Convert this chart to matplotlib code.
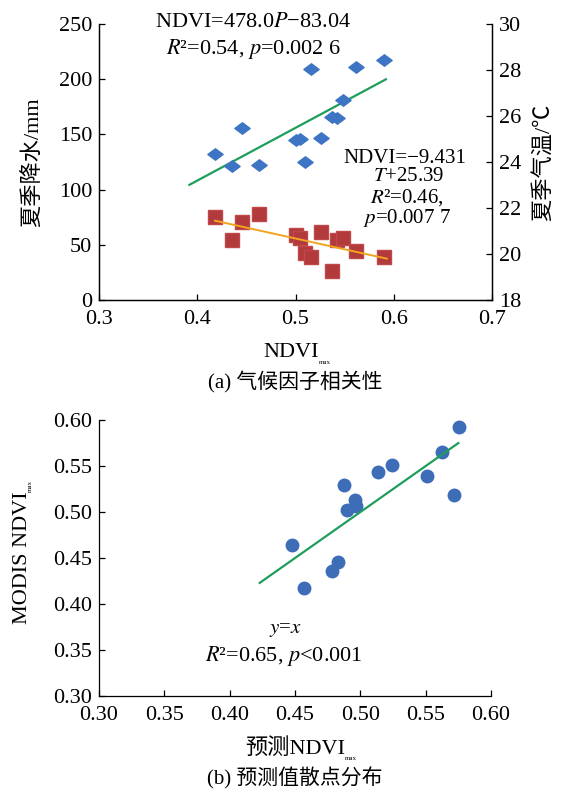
import matplotlib
matplotlib.use("Agg")
import matplotlib.pyplot as plt
import numpy as np
from matplotlib.path import Path

plt.rcParams['font.family'] = ['Liberation Serif', 'Noto Sans CJK SC']
plt.rcParams['mathtext.fontset'] = 'stix'
plt.rcParams['font.size'] = 16

# ---------------- data (a) ----------------
ndvi_max = [0.418, 0.435, 0.446, 0.463, 0.500, 0.505, 0.510,
            0.516, 0.526, 0.537, 0.542, 0.548, 0.562, 0.590]
precip = [132, 121, 155.6, 122.5, 145, 145.6, 124.6,
          209.6, 146.5, 165.5, 164.6, 181, 211, 217]
temp = [21.62, 20.61, 21.39, 21.73, 20.82, 20.71, 20.04,
        19.85, 20.96, 19.27, 20.61, 20.71, 20.14, 19.89]
# fit coefficients written on the chart
p_slope, p_icept = 478.0, -83.04
t_slope, t_icept = -9.431, 25.39
p_fit_range = [0.392, 0.592]
t_fit_range = [0.418, 0.593]

# ---------------- data (b) ----------------
pred_ndvi = [0.448, 0.457, 0.478, 0.483, 0.4876, 0.490, 0.4959,
             0.4964, 0.5137, 0.524, 0.5508, 0.5624, 0.5714, 0.5755]
modis_ndvi = [0.4645, 0.4175, 0.4356, 0.4457, 0.5292, 0.5025, 0.5133,
              0.5068, 0.544, 0.551, 0.539, 0.5657, 0.518, 0.5928]
one_to_one_range = [0.423, 0.575]

BLUE = '#3D75C4'
RED = '#B23A3C'
DOT = '#3E6DB8'
GREEN = '#1E9E5A'
ORANGE = '#F2A51E'

fig = plt.figure(figsize=(5.62, 7.93), dpi=100)

# flattened diamond
diamond = Path([(-1, 0), (0, 0.75), (1, 0), (0, -0.75), (-1, 0)],
               [Path.MOVETO, Path.LINETO, Path.LINETO, Path.LINETO, Path.CLOSEPOLY])


def style_axis(ax):
    for s in ax.spines.values():
        s.set_linewidth(0.9)
    ax.tick_params(direction='in', length=4, width=0.9, labelsize=16, pad=5)
    ax.tick_params(axis='x', pad=7)


# ---------------- (a) ----------------
ax1 = fig.add_axes([0.1762, 0.6217, 0.6993, 0.3480])
ax2 = ax1.twinx()
style_axis(ax1)
style_axis(ax2)
ax1.spines['top'].set_visible(False)
ax2.spines['top'].set_visible(False)

xf = np.array(p_fit_range)
ax1.plot(xf, p_slope * xf + p_icept, color=GREEN, lw=1.6, zorder=2)
ax1.plot(ndvi_max, precip, ls='none', marker=diamond, ms=11,
         color=BLUE, zorder=3)

xt = np.array(t_fit_range)
ax2.plot(ndvi_max, temp, ls='none', marker='s', ms=10, color=RED,
         markeredgecolor='#C04848', zorder=3)
ax2.plot(xt, t_slope * xt + t_icept, color=ORANGE, lw=1.4, zorder=4)

ax1.set_xlim(0.3, 0.7)
ax1.set_ylim(0, 250)
ax2.set_ylim(18, 30)
ax1.set_xticks([0.3, 0.4, 0.5, 0.6, 0.7])
ax1.set_xticklabels(['0.3', '0.4', '0.5', '0.6', '0.7'])
ax1.set_yticks(range(0, 251, 50))
ax2.set_yticks(range(18, 31, 2))

ax1.set_ylabel('夏季降水/mm', fontsize=16)
ax1.yaxis.set_label_coords(-0.14, 0.5)
ax2.set_ylabel('夏季气温/℃', fontsize=16)
ax2.yaxis.set_label_coords(1.105, 0.5)

ax1.text(0.457, 251, 'NDVI=478.0$P$\u221283.04', ha='center', va='center', fontsize=16)
ax1.text(0.457, 227, '$R$\u00b2=0.54, $p$=0.002 6', ha='center', va='center', fontsize=16)
ax1.text(0.611, 128, 'NDVI=\u22129.431', ha='center', va='center', fontsize=15)
ax1.text(0.615, 112, '$T$+25.39', ha='center', va='center', fontsize=15)
ax1.text(0.613, 93, '$R$\u00b2=0.46,', ha='center', va='center', fontsize=15)
ax1.text(0.613, 74.5, '$p$=0.007 7', ha='center', va='center', fontsize=15)

t1 = ax1.text(0.49, -0.19, 'NDVI', transform=ax1.transAxes,
              ha='center', va='center', fontsize=16)
ax1.annotate('max', xy=(1.0, 0.12), xycoords=t1, ha='left', va='top', fontsize=5)
ax1.text(0.5, -0.30, '(a) 气候因子相关性', transform=ax1.transAxes,
         ha='center', va='center', fontsize=15)

# ---------------- (b) ----------------
ax3 = fig.add_axes([0.1762, 0.1223, 0.6975, 0.3480])
style_axis(ax3)
ax3.spines['top'].set_visible(False)
ax3.spines['right'].set_visible(False)

ax3.plot(pred_ndvi, modis_ndvi, ls='none', marker='o', ms=9, color=DOT, zorder=3)
xo = np.array(one_to_one_range)
ax3.plot(xo, xo, color=GREEN, lw=1.6, zorder=4)

ax3.set_xlim(0.30, 0.60)
ax3.set_ylim(0.30, 0.60)
ticks = [0.30, 0.35, 0.40, 0.45, 0.50, 0.55, 0.60]
ax3.set_xticks(ticks)
ax3.set_xticklabels([f'{t:.2f}' for t in ticks])
ax3.set_yticks(ticks)
ax3.set_yticklabels([f'{t:.2f}' for t in ticks])

ax3.text(0.4425, 0.3723, '$y$=$x$', ha='center', va='center', fontsize=15)
ax3.text(0.4415, 0.3434, '$R$\u00b2=0.65, $p$<0.001', ha='center', va='center', fontsize=16)

t2 = ax3.text(-0.195, 0.5, 'MODIS NDVI', transform=ax3.transAxes, rotation=90,
              ha='center', va='center', fontsize=16)
ax3.annotate('max', xy=(1.05, 1.0), xycoords=t2, rotation=90,
             ha='right', va='bottom', fontsize=5)

t3 = ax3.text(0.5, -0.19, '预测NDVI', transform=ax3.transAxes,
              ha='center', va='center', fontsize=16)
ax3.annotate('max', xy=(1.0, 0.12), xycoords=t3, ha='left', va='top', fontsize=5)
ax3.text(0.5, -0.30, '(b) 预测值散点分布', transform=ax3.transAxes,
         ha='center', va='center', fontsize=15)

fig.savefig('out.png', dpi=100)
plt.close(fig)
